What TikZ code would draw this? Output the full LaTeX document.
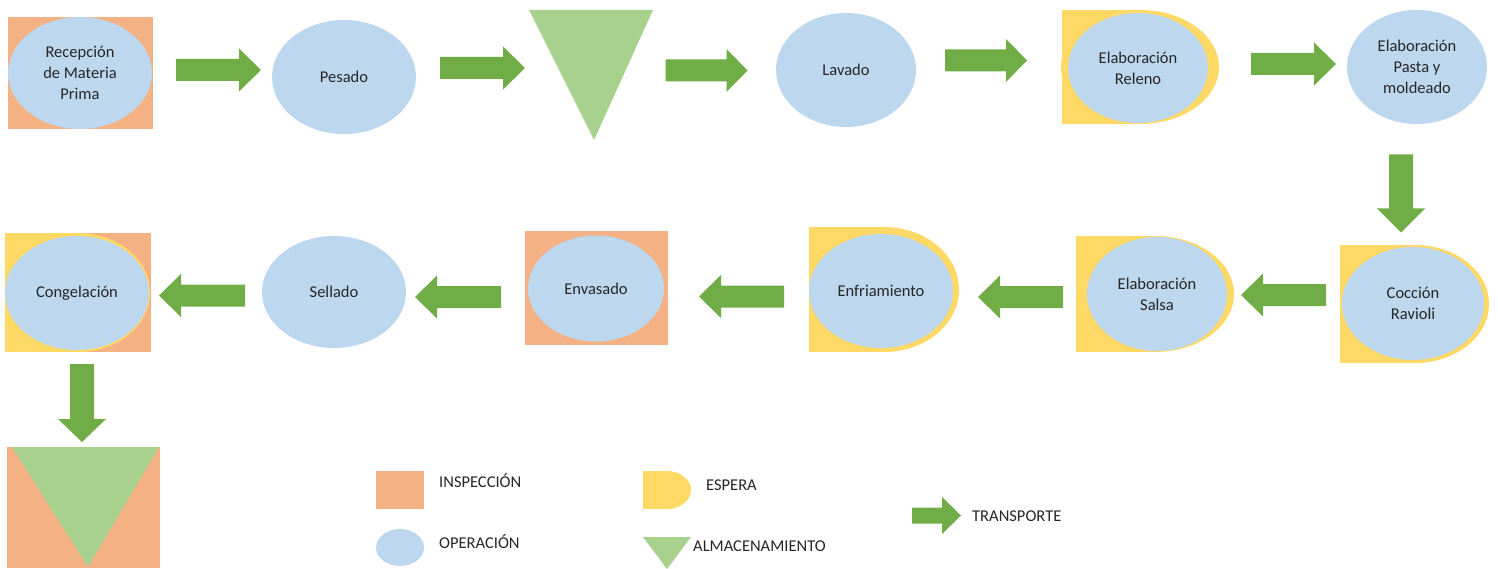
\documentclass[tikz,border=0pt]{standalone}
\usepackage{fontspec}
\setmainfont{Carlito}
\usetikzlibrary{shapes.geometric}
\definecolor{insp}{HTML}{F4B183}
\definecolor{oper}{HTML}{BDD7EE}
\definecolor{esp}{HTML}{FFD966}
\definecolor{alm}{HTML}{A9D18E}
\definecolor{trn}{HTML}{70AD47}
\definecolor{txt}{HTML}{262626}
\tikzset{
  op/.style={ellipse, fill=oper, inner sep=0pt, align=center, text=txt,
    font=\fontsize{16.5}{21}\selectfont},
  lbl/.style={anchor=west, inner sep=0pt, text=txt, font=\fontsize{16.5}{21}\selectfont},
  pics/tarrow/.style n args={4}{code={
    \fill[trn] ({-#1/2},{-#2/2}) -- ({#1/2-#4},{-#2/2}) -- ({#1/2-#4},{-#3/2})
      -- ({#1/2},0) -- ({#1/2-#4},{#3/2}) -- ({#1/2-#4},{#2/2}) -- ({-#1/2},{#2/2}) -- cycle;
  }}
}
\begin{document}
\begin{tikzpicture}[x=1pt,y=-1pt]
\useasboundingbox (0,0) rectangle (1498,569);

% ---------- Row 1 ----------
\fill[insp] (8,17) rectangle (153,129);
\node[op, minimum width=144pt, minimum height=112pt] (recep) at (80,73) {Recepción\\de Materia\\Prima};

\node[op, minimum width=144pt, minimum height=114pt] (pesado) at (344,77) {Pesado};

\fill[alm] (529,10) -- (653,10) -- (594,140) -- cycle;

\node[op, minimum width=140pt, minimum height=114pt] (lavado) at (846,70) {Lavado};

\fill[esp] (1062,10) rectangle (1140,124);
\fill[esp] (1140,67) ellipse [x radius=79pt, y radius=57pt];
\node[op, minimum width=140pt, minimum height=110pt] (releno) at (1138,68) {Elaboración\\Releno};

\node[op, minimum width=140pt, minimum height=114pt] (pasta) at (1417,67) {Elaboración\\Pasta y\\moldeado};

% ---------- Row 2 ----------
\fill[esp] (1340,245) rectangle (1415,363);
\fill[esp] (1415,304) ellipse [x radius=74pt, y radius=59pt];
\node[op, minimum width=142pt, minimum height=113pt] (coccion) at (1413,303.5) {Cocción\\Ravioli};

\fill[esp] (1076,236) rectangle (1155,352);
\fill[esp] (1155,294) ellipse [x radius=79pt, y radius=58pt];
\node[op, minimum width=140pt, minimum height=114pt] (salsa) at (1157,294) {Elaboración\\Salsa};

\fill[esp] (809,227) rectangle (884,352);
\fill[esp] (884,289.5) ellipse [x radius=75pt, y radius=62.5pt];
\node[op, minimum width=144pt, minimum height=114pt] (enfri) at (881,291) {Enfriamiento};

\fill[insp] (525,231) rectangle (668,345);
\node[op, minimum width=136pt, minimum height=106pt] (envasado) at (596,288.5) {Envasado};

\node[op, minimum width=144pt, minimum height=112pt] (sellado) at (334,292) {Sellado};

\fill[insp] (5,233) rectangle (151,352);
\fill[esp] (5,233) rectangle (78,352);
\fill[esp] (78,292.5) ellipse [x radius=72pt, y radius=59.5pt];
\node[op, minimum width=144pt, minimum height=114pt] (congel) at (77,293) {Congelación};

% ---------- final storage ----------
\fill[insp] (7,447) rectangle (160,568);
\fill[alm] (12,447) -- (159,447) -- (88,567) -- cycle;

% ---------- transport arrows ----------
\pic at (218.5,70) {tarrow={85}{22}{43}{22}};
\pic at (482.5,68) {tarrow={85}{22}{43}{22}};
\pic at (706.5,70.5) {tarrow={82}{22}{43}{21}};
\pic at (986,60.5) {tarrow={82}{22}{43}{21}};
\pic at (1293.5,64) {tarrow={85}{22}{43}{22}};
\pic[rotate=-90] at (1401,193.5) {tarrow={78}{24}{48}{24}};
\pic[rotate=180] at (1283.5,295) {tarrow={85}{22}{43}{22}};
\pic[rotate=180] at (1020.5,297) {tarrow={85}{22}{43}{22}};
\pic[rotate=180] at (741.5,296.5) {tarrow={85}{22}{43}{22}};
\pic[rotate=180] at (458,297) {tarrow={86}{22}{43}{22}};
\pic[rotate=180] at (202,295.5) {tarrow={86}{22}{43}{22}};
\pic[rotate=-90] at (82,403) {tarrow={78}{24}{48}{23}};

% ---------- legend ----------
\fill[insp] (376,471) rectangle (424,509);
\node[lbl] (linsp) at (439,481) {INSPECCIÓN};
\node[ellipse, fill=oper, inner sep=0pt, minimum width=48pt, minimum height=37pt] (loper) at (400,547.5) {};
\node[lbl] (loperl) at (439,542) {OPERACIÓN};
\fill[esp] (643,471) rectangle (667,509);
\fill[esp] (667,490) ellipse [x radius=24pt, y radius=19pt];
\node[lbl] (lesp) at (706,485) {ESPERA};
\fill[alm] (643,537) -- (691,537) -- (667,569) -- cycle;
\node[lbl] (lalm) at (693,546) {ALMACENAMIENTO};
\pic at (936.5,515.5) {tarrow={49}{16}{37}{19}};
\node[lbl] (ltrn) at (972,516) {TRANSPORTE};
\end{tikzpicture}
\end{document}
